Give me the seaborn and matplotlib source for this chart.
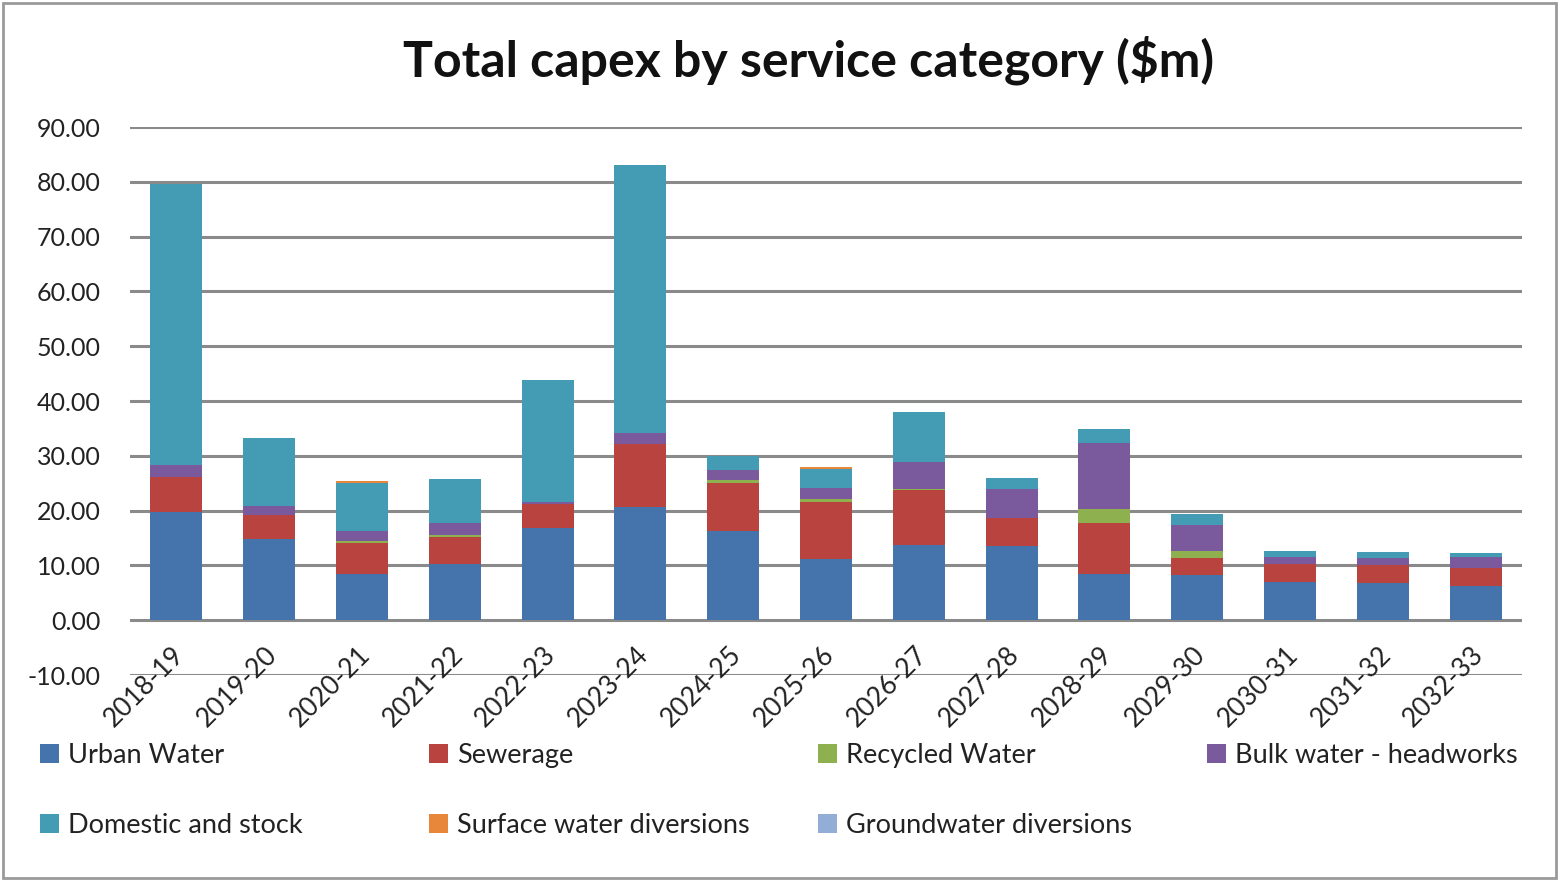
import numpy as np
import pandas as pd
import matplotlib
matplotlib.use("Agg")
import matplotlib.pyplot as plt
from matplotlib.patches import Patch, Rectangle
import seaborn as sns

years = ["2018-19", "2019-20", "2020-21", "2021-22", "2022-23", "2023-24", "2024-25",
         "2025-26", "2026-27", "2027-28", "2028-29", "2029-30", "2030-31", "2031-32", "2032-33"]

urban_water = [19.8, 14.9, 8.5, 10.3, 16.8, 20.6, 16.2, 11.2, 13.8, 13.6, 8.4, 8.3, 7.0, 6.7, 6.3]
sewerage = [6.4, 4.3, 5.6, 4.9, 4.4, 11.5, 8.9, 10.3, 9.9, 5.1, 9.4, 3.1, 3.2, 3.3, 3.2]
recycled_water = [0.0, 0.0, 0.3, 0.3, 0.0, 0.0, 0.4, 0.7, 0.3, 0.0, 2.5, 1.2, 0.0, 0.0, 0.0]
bulk_water = [2.1, 1.6, 1.8, 2.3, 0.3, 2.0, 1.9, 2.0, 4.8, 5.2, 12.0, 4.8, 1.4, 1.4, 2.1]
domestic_stock = [51.3, 12.4, 8.9, 7.9, 22.3, 48.9, 2.5, 3.4, 9.2, 2.1, 2.5, 2.0, 1.1, 1.1, 0.6]
surface_water = [0.0, 0.0, 0.3, 0.0, 0.0, 0.0, 0.0, 0.3, 0.0, 0.0, 0.0, 0.0, 0.0, 0.0, 0.0]
groundwater = [0.0] * 15

series_names = ["Urban Water", "Sewerage", "Recycled Water", "Bulk water - headworks",
                "Domestic and stock", "Surface water diversions", "Groundwater diversions"]
series_values = [urban_water, sewerage, recycled_water, bulk_water, domestic_stock,
                 surface_water, groundwater]
colors = ["#4573ab", "#b9443f", "#8fb04e", "#7a5a9c", "#439bb4", "#e8873a", "#93aed6"]

title = "Total capex by service category ($m)"
y_ticks = [-10, 0, 10, 20, 30, 40, 50, 60, 70, 80, 90]

sns.set_theme(style="white")
plt.rcParams["font.family"] = ["Lato", "DejaVu Sans"]

fig = plt.figure(figsize=(15.6, 8.8), dpi=100)
ax = fig.add_axes([130 / 1560, 1 - 675 / 880, (1522 - 130) / 1560, (675 - 127) / 880])

df = pd.DataFrame({"year": years})
cum = np.zeros(len(years))
cums = []
for vals in series_values:
    cum = cum + np.array(vals)
    cums.append(cum.copy())

# draw stacks from top layer down (cumulative heights)
for i in reversed(range(len(series_values))):
    d = df.copy()
    d["value"] = cums[i]
    sns.barplot(data=d, x="year", y="value", color=colors[i], saturation=1,
                width=0.56, ax=ax, zorder=3, linewidth=0)

ax.set_ylim(-10, 90)
ax.set_xlim(-0.5, len(years) - 0.5)
ax.set_yticks(y_ticks)
ax.set_yticklabels([f"{v:.2f}" for v in y_ticks], fontsize=18, color="#222222")
ax.tick_params(axis="y", length=0, pad=21)
ax.grid(axis="y", color="#8a8a8a", linewidth=2.2, zorder=0)
ax.set_axisbelow(True)
for s in ax.spines.values():
    s.set_visible(False)
ax.set_xlabel("")
ax.set_ylabel("")
ax.set_xticks(range(len(years)))
ax.set_xticklabels([])
ax.tick_params(axis="x", length=0)

for i, yr in enumerate(years):
    ax.annotate(yr, xy=(i, 0), xytext=(3, -22), textcoords="offset points",
                rotation=45, rotation_mode="anchor", ha="right", va="center",
                fontsize=19, color="#222222", annotation_clip=False)

fig.text(809 / 1560, 1 - 60 / 880, title, ha="center", va="center",
         fontsize=36, fontweight="bold", color="#111111")

# legend: four columns placed like the reference
handles = [Patch(facecolor=c, edgecolor="none") for c in colors]
col_x = [40, 429, 818, 1207]
columns = [[0, 4], [1, 5], [2, 6], [3]]
for cx, idxs in zip(col_x, columns):
    fig.legend([handles[k] for k in idxs], [series_names[k] for k in idxs],
               loc="upper left", bbox_to_anchor=(cx / 1560, 1 - 743 / 880),
               frameon=False, fontsize=19.5, handlelength=0.7, handleheight=0.7,
               handletextpad=0.35, labelspacing=1.65, borderpad=0, borderaxespad=0,
               labelcolor="#222222")

fig.add_artist(Rectangle((3 / 1560, 2 / 880), 1553 / 1560, 875 / 880,
                         transform=fig.transFigure, fill=False,
                         edgecolor="#9a9a9a", linewidth=2))

fig.savefig("out.png", dpi=100)
